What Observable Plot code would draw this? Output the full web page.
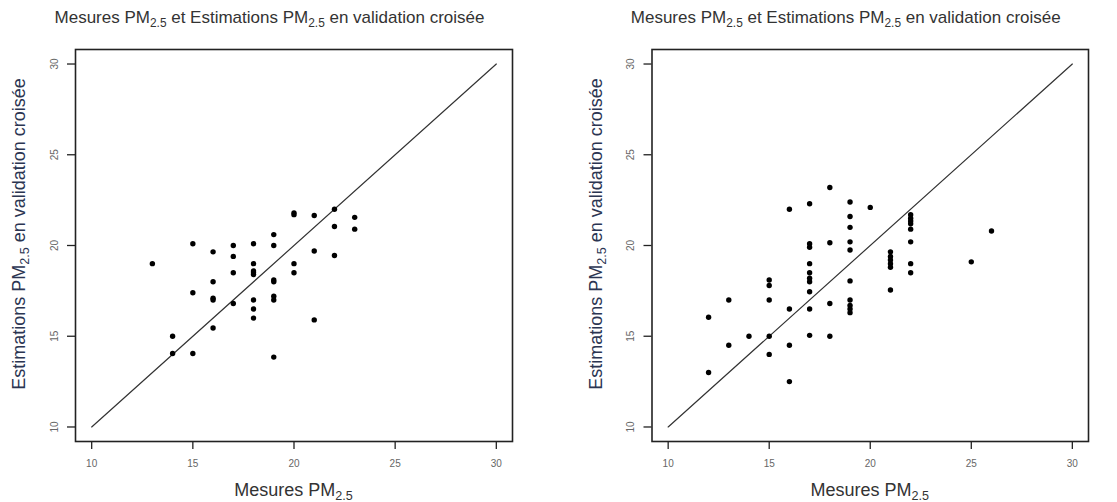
<!DOCTYPE html>
<html><head><meta charset="utf-8">
<script src="https://cdn.jsdelivr.net/npm/d3@7"></script>
<script src="https://cdn.jsdelivr.net/npm/@observablehq/plot@0.6"></script>
<style>
body{margin:0;background:#fff;}
#wrap{position:relative;width:1117px;height:502px;overflow:hidden;font-family:"Liberation Sans",Arial,sans-serif;}
.panel{position:absolute;top:0;height:502px;}
.panel svg{position:absolute;left:0;top:0;}
.lab{position:absolute;white-space:nowrap;font-size:18px;line-height:1;color:#333;}
.title{top:9px;font-size:17px;transform:translateX(-50%);}
.xlab{top:481px;transform:translateX(-50%);}
.ylab{transform:translate(-50%,-50%) rotate(-90deg);color:#2b3552;}
sub{font-size:0.7em;vertical-align:-0.3em;line-height:0;}
</style>
</head><body>
<div id="wrap"></div>
<script>
// Tick values and identity line
const tickValues = [10, 15, 20, 25, 30];
const identityLine = [10, 30];

// Left panel: measured (x) vs cross-validated estimates (y)
const leftMeasures = [13,14,14,15,15,15,16,16,16,16,16,17,17,17,17,18,18,18,18,18,18,18,18,19,19,19,19,19,19,19,20,20,20,20,21,21,21,22,22,22,23,23];
const leftEstimates = [19.0,15.0,14.05,20.1,17.4,14.05,19.65,18.0,17.1,17.0,15.45,20.0,19.4,18.5,16.8,20.1,19.0,18.6,18.5,18.4,17.0,16.5,16.0,20.6,20.0,18.1,18.0,17.2,17.0,13.85,21.8,21.7,19.0,18.5,21.65,19.7,15.9,22.0,21.05,19.45,21.55,20.9];

// Right panel
const rightMeasures = [12,12,13,13,14,15,15,15,15,15,16,16,16,16,17,17,17,17,17,17,17,17,17,17,18,18,18,18,19,19,19,19,19,19,19,19,19,19,20,21,21,21,21,21,21,22,22,22,22,22,22,22,22,25,26];
const rightEstimates = [16.05,13.0,17.0,14.5,15.0,18.1,17.8,17.0,15.0,14.0,22.0,16.5,14.5,12.5,22.3,20.1,19.9,19.0,18.5,18.2,18.0,17.45,16.5,15.05,23.2,20.15,16.8,15.0,22.4,21.6,21.0,20.2,19.75,18.05,17.0,16.7,16.5,16.3,22.1,19.65,19.4,19.2,19.0,18.8,17.55,21.7,21.5,21.35,21.2,20.9,20.2,19.0,18.5,19.1,20.8];

const titleHTML = "Mesures PM<sub>2.5</sub> et Estimations PM<sub>2.5</sub> en validation croisée";
const xLabelHTML = "Mesures PM<sub>2.5</sub>";
const yLabelHTML = "Estimations PM<sub>2.5</sub> en validation croisée";

const MT = 49, MB = 61, H = 502;

function makePanel(left, width, mL, mR, xs, ys) {
  const wrap = document.getElementById("wrap");
  const div = document.createElement("div");
  div.className = "panel";
  div.style.left = left + "px";
  div.style.width = width + "px";
  wrap.appendChild(div);
  const data = xs.map((x, i) => ({x, y: ys[i]}));
  const diag = identityLine.map(v => ({x: v, y: v}));
  const svg = Plot.plot({
    width, height: H,
    marginLeft: mL, marginRight: mR, marginTop: MT, marginBottom: MB,
    x: {domain: [9.2, 30.8], label: null},
    y: {domain: [9.2, 30.8], label: null},
    style: {background: "transparent", fontFamily: "'Liberation Sans', Arial, sans-serif", fontSize: "10px"},
    marks: [
      Plot.axisX({ticks: tickValues, tickSize: 8, tickPadding: 10, label: null, tickFormat: d => String(d), fill: "#666", stroke: "#222", strokeWidth: 1.3}),
      Plot.axisY({ticks: tickValues, tickSize: 8, label: null, tickFormat: () => "", stroke: "#222", strokeWidth: 1.3}),
      Plot.text(tickValues, {y: d => d, text: d => String(d), frameAnchor: "left", dx: -21, rotate: -90, textAnchor: "middle", lineAnchor: "middle", fill: "#666", fontSize: 10}),
      Plot.frame({stroke: "#222", strokeWidth: 1.6}),
      Plot.line(diag, {x: "x", y: "y", stroke: "#333", strokeWidth: 1.2}),
      Plot.dot(data, {x: "x", y: "y", r: 2.7, fill: "#000", stroke: "none"})
    ]
  });
  div.appendChild(svg);
  const boxC = mL + (width - mL - mR) / 2;
  const t = document.createElement("div");
  t.className = "lab title"; t.innerHTML = titleHTML; t.style.left = (boxC - 24) + "px";
  div.appendChild(t);
  const xl = document.createElement("div");
  xl.className = "lab xlab"; xl.innerHTML = xLabelHTML; xl.style.left = boxC + "px";
  div.appendChild(xl);
  const yl = document.createElement("div");
  yl.className = "lab ylab"; yl.innerHTML = yLabelHTML;
  yl.style.left = (mL - 56) + "px"; yl.style.top = "234px";
  div.appendChild(yl);
}

makePanel(0, 558, 75, 46, leftMeasures, leftEstimates);
makePanel(558, 559, 93.5, 29, rightMeasures, rightEstimates);
</script>
</body></html>
